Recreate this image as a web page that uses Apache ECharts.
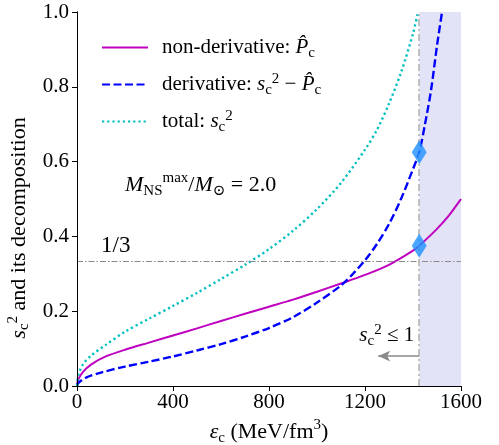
<!DOCTYPE html>
<html>
<head>
<meta charset="utf-8">
<script src="https://cdn.jsdelivr.net/npm/echarts@6/dist/echarts.min.js"></script>
<style>
  html, body { margin: 0; padding: 0; background: #fff; }
  #chart { width: 499px; height: 445px; }
</style>
</head>
<body>
<div id="chart"></div>
<script>
// Energy density grid (MeV/fm^3) and squared sound speed pieces
const epsNonDeriv = [0, 5, 25, 60, 120, 200, 300, 400, 500, 600, 700, 800, 900, 1000, 1100, 1200, 1300, 1400, 1426, 1500, 1550, 1600];
const nonDeriv    = [0, 0.017, 0.038, 0.058, 0.079, 0.097, 0.116, 0.135, 0.154, 0.174, 0.193, 0.212, 0.231, 0.252, 0.274, 0.297, 0.324, 0.362, 0.375, 0.420, 0.456, 0.500];

const epsDeriv = [0, 5, 40, 100, 200, 300, 400, 500, 600, 700, 800, 900, 1000, 1100, 1150, 1200, 1250, 1300, 1350, 1400, 1426, 1450, 1475, 1500, 1521];
const deriv    = [0, 0.008, 0.023, 0.036, 0.052, 0.065, 0.079, 0.095, 0.112, 0.132, 0.155, 0.184, 0.223, 0.269, 0.300, 0.336, 0.380, 0.433, 0.500, 0.580, 0.625, 0.700, 0.790, 0.910, 1.000];

const epsTotal = [0, 5, 25, 60, 120, 200, 300, 400, 500, 600, 700, 800, 900, 1000, 1100, 1200, 1250, 1300, 1350, 1400, 1421];
const total    = [0, 0.028, 0.058, 0.082, 0.110, 0.145, 0.180, 0.214, 0.249, 0.286, 0.324, 0.366, 0.415, 0.473, 0.543, 0.632, 0.685, 0.755, 0.838, 0.942, 1.000];

// Central energy density of the maximum-mass star and its two pieces there
const epsCenter = 1426;
const centerPoints = [[1426, 0.375], [1426, 0.625]];
const conformalLimit = 1 / 3;

const xTicks = { min: 0, max: 1600, interval: 400 };
const yTicks = { min: 0, max: 1, interval: 0.2 };

const seriesNames = ['non-derivative', 'derivative', 'total'];

const SERIF = "'Liberation Serif', 'DejaVu Serif', serif";
const zip = (xs, ys) => xs.map((x, i) => [x, ys[i]]);

// rich-text styles for italic symbols with sub/superscripts
function richStyles(size, lh) {
  const small = Math.round(size * 0.7);
  return {
    t:    { fontFamily: SERIF, fontSize: size, lineHeight: lh, color: '#000' },
    tEnd: { fontFamily: SERIF, fontSize: size, lineHeight: lh, color: '#000', padding: [0, 58, 0, 0] },
    it:   { fontFamily: SERIF, fontSize: size, lineHeight: lh, fontStyle: 'italic', color: '#000' },
    sub:  { fontFamily: SERIF, fontSize: small, lineHeight: small, verticalAlign: 'bottom', color: '#000' },
    sup:  { fontFamily: SERIF, fontSize: small, lineHeight: small, verticalAlign: 'top', color: '#000' }
  };
}

const legendText = {
  'non-derivative': '{t|non-derivative: }{it|P\u0302}{sub|c}',
  'derivative': '{t|derivative: }{it|s}{sub|c}{sup|2}{t| \u2212 }{it|P\u0302}{sub|c}',
  'total': '{t|total: }{it|s}{sub|c}{sup|2}'
};

const axisLine = { show: true, lineStyle: { color: '#000', width: 1 } };

const chart = echarts.init(document.getElementById('chart'), null, { renderer: 'canvas' });

chart.setOption({
  animation: false,
  backgroundColor: '#fff',
  textStyle: { fontFamily: SERIF },
  grid: { left: 77, right: 38, top: 12, bottom: 59, containLabel: false, outerBoundsMode: 'none' },
  legend: {
    data: seriesNames,
    orient: 'vertical',
    left: 96,
    top: 32,
    itemWidth: 46,
    itemHeight: 14,
    itemGap: 11,
    itemStyle: { color: 'rgba(0,0,0,0)', borderColor: 'rgba(0,0,0,0)', borderWidth: 0, opacity: 0 },
    textStyle: { fontFamily: SERIF, padding: [0, 0, 0, 9], rich: richStyles(21, 26) },
    formatter: name => legendText[name]
  },
  xAxis: [{
    type: 'value',
    min: xTicks.min, max: xTicks.max, interval: xTicks.interval,
    z: 10,
    axisLine: axisLine,
    axisTick: { show: true, inside: false, length: 5, lineStyle: { color: '#000' } },
    axisLabel: { margin: 6, fontFamily: SERIF, fontSize: 21, color: '#000', formatter: v => String(v) },
    splitLine: { show: false },
    name: '{it|\u03b5}{sub|c}{t| (MeV/fm}{sup|3}{t|)}',
    nameLocation: 'middle',
    nameGap: 26,
    nameTextStyle: { fontFamily: SERIF, rich: richStyles(22, 28) }
  }, {
    type: 'value', position: 'top',
    min: xTicks.min, max: xTicks.max,
    z: 10,
    axisLine: axisLine, axisTick: { show: false }, axisLabel: { show: false }, splitLine: { show: false }
  }],
  yAxis: [{
    type: 'value',
    min: yTicks.min, max: yTicks.max, interval: yTicks.interval,
    z: 10,
    axisLine: axisLine,
    axisTick: { show: true, inside: false, length: 5, lineStyle: { color: '#000' } },
    axisLabel: { margin: 8, fontFamily: SERIF, fontSize: 21, color: '#000', formatter: v => v.toFixed(1) },
    splitLine: { show: false },
    name: '{it|s}{sub|c}{sup|2}{tEnd| and its decomposition}',
    nameLocation: 'middle',
    nameRotate: 90,
    nameGap: 40,
    nameTextStyle: { fontFamily: SERIF, rich: richStyles(22, 26) }
  }, {
    type: 'value', position: 'right',
    min: yTicks.min, max: yTicks.max,
    z: 10,
    axisLine: axisLine, axisTick: { show: false }, axisLabel: { show: false }, splitLine: { show: false }
  }],
  series: [
    {
      // region beyond the maximum-mass configuration, plus reference lines
      name: 'guides',
      type: 'line',
      data: [],
      z: 1,
      markArea: {
        silent: true,
        itemStyle: { color: '#e3e3f8' },
        data: [[{ xAxis: epsCenter, yAxis: yTicks.min }, { xAxis: xTicks.max, yAxis: yTicks.max }]]
      },
      markLine: {
        silent: true,
        symbol: ['none', 'none'],
        label: { show: false },
        data: [
          [{ coord: [xTicks.min, conformalLimit], lineStyle: { color: '#8a8a8a', width: 1, type: [6, 2, 1.5, 2] } },
           { coord: [xTicks.max, conformalLimit] }],
          [{ coord: [epsCenter, yTicks.min], lineStyle: { color: '#b4b4b4', width: 1.6, type: [7, 3, 2, 3] } },
           { coord: [epsCenter, yTicks.max] }],
          [{ coord: [1255, 0.08], symbol: 'arrow', symbolSize: [8, 12], lineStyle: { color: '#8a8a8a', width: 1.6, type: 'solid' } },
           { coord: [epsCenter, 0.08], symbol: 'none' }]
        ]
      }
    },
    {
      name: 'non-derivative',
      type: 'line',
      data: zip(epsNonDeriv, nonDeriv),
      symbol: 'none',
      smooth: 0.3,
      z: 3,
      lineStyle: { color: '#bf00bf', width: 2 },
      itemStyle: { color: '#bf00bf' }
    },
    {
      name: 'derivative',
      type: 'line',
      data: zip(epsDeriv, deriv),
      symbol: 'none',
      smooth: 0.3,
      z: 3,
      lineStyle: { color: '#0000ff', width: 2.4, type: [8, 3.5] },
      itemStyle: { color: '#0000ff' }
    },
    {
      name: 'total',
      type: 'line',
      data: zip(epsTotal, total),
      symbol: 'none',
      smooth: 0.3,
      z: 3,
      lineStyle: { color: '#00bfbf', width: 2.4, type: [2.2, 3] },
      itemStyle: { color: '#00bfbf' }
    },
    {
      name: 'center',
      type: 'scatter',
      data: centerPoints,
      symbol: 'diamond',
      symbolSize: [15, 24],
      z: 5,
      itemStyle: { color: '#1e90ff' }
    }
  ]
});

// Text annotations anchored in data coordinates
const px = p => chart.convertToPixel({ seriesIndex: 1 }, p);
const pThird = px([100, 0.345]);
const pMass = px([200, 0.538]);
const pBound = px([1405, 0.136]);

chart.setOption({
  graphic: [
    {
      type: 'text', x: pThird[0], y: pThird[1], z: 20,
      style: { text: '1/3', fontFamily: SERIF, fontSize: 23, fill: '#000', align: 'left', verticalAlign: 'bottom' }
    },
    {
      type: 'text', x: pMass[0], y: pMass[1], z: 20,
      style: {
        text: '{it|M}{sub|NS}{sup|max}{t|/}{it|M}{sub|\u2299}{t| = 2.0}',
        rich: richStyles(22, 28), align: 'left', verticalAlign: 'middle'
      }
    },
    {
      type: 'text', x: pBound[0], y: pBound[1], z: 20,
      style: {
        text: '{it|s}{sub|c}{sup|2}{t| \u2264 1}',
        rich: richStyles(21, 26), align: 'right', verticalAlign: 'middle'
      }
    }
  ]
});
</script>
</body>
</html>
